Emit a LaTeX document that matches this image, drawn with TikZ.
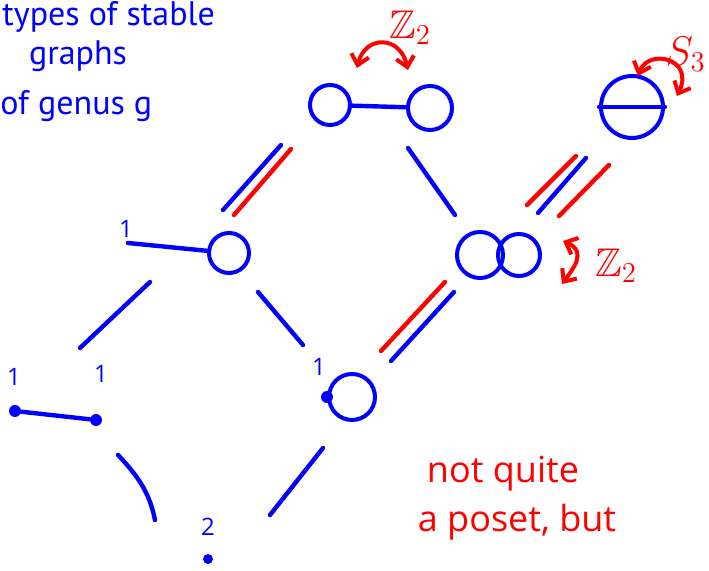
\documentclass[tikz,border=0pt]{standalone}
\usepackage{amssymb}
\usepackage{fontspec}
\setmainfont{Open Sans}
\newfontfamily\manuscrit{PT Sans}
\usetikzlibrary{arrows.meta, positioning}

\begin{document}
\begin{tikzpicture}[
		x=0.5pt, y=-0.5pt,
		% Styles des graphes
		boucle/.style={draw=blue, circle, line width=2pt, inner sep=0pt},
		sommet/.style={fill=blue, circle, inner sep=0pt, minimum size=6pt},
		genre/.style={text=blue, font=\fontsize{12}{12}\selectfont, inner sep=1pt},
		lienBleu/.style={draw=blue, line width=2.2pt, line cap=round},
		lienRouge/.style={draw=red, line width=2.2pt, line cap=round},
		arcSym/.style={{Straight Barb[length=5pt, width=9pt]}-{Straight Barb[length=5pt, width=9pt]}, draw=red, line width=2pt, line cap=round},
		titre/.style={text=blue, font=\manuscrit\fontsize{17}{20}\selectfont},
		remarque/.style={text=red, font=\fontsize{18}{20}\selectfont},
		groupe/.style={text=red, font=\fontsize{20}{22}\selectfont, inner sep=1pt},
		]
	
	\useasboundingbox (0,0) rectangle (709,571);
	\clip (0,0) rectangle (709,571);
	
	% Titre
	\node[titre, anchor=west, inner sep=0pt] (titreA) at (2,17) {types of stable};
	\node[titre] (titreB) at (78,56) {graphs};
	\node[titre, anchor=west, inner sep=0pt] (titreC) at (0,106) {of genus g};
	
	
	% Haut : deux boucles reliees
	\node[boucle, minimum size=20pt] (HautG) at (330,105) {};
	\node[boucle, minimum size=22pt] (HautD) at (430,108) {};
	\draw[lienBleu] (HautG) -- (HautD);
	\coordinate (symHautA) at (357,68);
	\coordinate (symHautB) at (408,70);
	\draw[arcSym] (symHautA) .. controls (365,35) and (400,35) .. (symHautB);
	\node[groupe] (groupeHaut) at (410,28) {$\mathbb{Z}_2$};
	
	
	% Haut droite : theta
	\node[boucle, minimum size=31pt] (Theta) at (632,107) {};
	\draw[lienBleu] (Theta.west) -- (Theta.east);
	\coordinate (symThetaA) at (638,76);
	\coordinate (symThetaB) at (677,96);
	\draw[arcSym] (symThetaA) .. controls (648,48) and (695,58) .. (symThetaB);
	\node[groupe, anchor=east] (groupeTheta) at (708,54) {$S_3$};
	
	
	% Milieu gauche
	\node[boucle, minimum size=20pt] (MilG) at (229,253) {};
	\coordinate (Patte) at (128,243);
	\node[genre] (genrePatte) at (126,229) {1};
	\draw[lienBleu] (Patte) -- (MilG);
	
	
	% Milieu droite : huit
	\node[boucle, minimum size=23pt] (MilD) at (480,255) {};
	\node[boucle, minimum size=21pt] (MilDbis) at (519,255) {};
	\coordinate (symMilA) at (563,241);
	\coordinate (symMilB) at (562,284);
	\draw[arcSym] (symMilA) .. controls (588,252) and (572,270) .. (symMilB);
	\node[groupe] (groupeMil) at (616,266) {$\mathbb{Z}_2$};
	
	
	% Bas gauche : haltere
	\node[sommet] (BasG) at (15,411) {};
	\node[sommet] (BasGbis) at (96,420) {};
	\draw[lienBleu] (BasG) -- (BasGbis);
	\node[genre] (genreBasG) at (14,377) {1};
	\node[genre] (genreBasGbis) at (101,374) {1};
	
	
	% Bas milieu
	\node[boucle, minimum size=23pt] (BasM) at (352,397) {};
	\node[sommet] (BasMv) at (BasM.west) {};
	\node[genre] (genreBasM) at (319,367) {1};
	
	
	% Tout en bas
	\node[genre] (genreBas) at (208,527) {2};
	\node[sommet, minimum size=5pt] (Bas) at (208,559) {};
	
	
	% Remarque
	\node[remarque] (remA) at (503,474) {not quite};
	\node[remarque] (remB) at (517,522) {a poset, but};
	
	
	% Aretes de degenerescence
	\coordinate (a1) at (281,145);
	\coordinate (a2) at (223,210);
	\coordinate (a3) at (291,149);
	\coordinate (a4) at (234,215);
	\draw[lienBleu] (a1) -- (a2);
	\draw[lienRouge] (a3) -- (a4);
	
	\coordinate (b1) at (408,148);
	\coordinate (b2) at (455,215);
	\draw[lienBleu] (b1) -- (b2);
	
	\coordinate (c1) at (576,156);
	\coordinate (c2) at (527,205);
	\coordinate (c3) at (586,158);
	\coordinate (c4) at (538,213);
	\coordinate (c5) at (609,165);
	\coordinate (c6) at (559,216);
	\draw[lienRouge] (c1) -- (c2);
	\draw[lienBleu] (c3) -- (c4);
	\draw[lienRouge] (c5) -- (c6);
	
	\coordinate (d1) at (445,282);
	\coordinate (d2) at (381,351);
	\coordinate (d3) at (454,292);
	\coordinate (d4) at (391,361);
	\draw[lienRouge] (d1) -- (d2);
	\draw[lienBleu] (d3) -- (d4);
	
	\coordinate (e1) at (150,282);
	\coordinate (e2) at (80,348);
	\draw[lienBleu] (e1) -- (e2);
	
	\coordinate (f1) at (258,292);
	\coordinate (f2) at (303,345);
	\draw[lienBleu] (f1) -- (f2);
	
	\coordinate (g1) at (118,455);
	\coordinate (g2) at (155,520);
	\draw[lienBleu] (g1) .. controls (140,478) and (150,495) .. (g2);
	
	\coordinate (h1) at (323,448);
	\coordinate (h2) at (270,515);
	\draw[lienBleu] (h1) -- (h2);
\end{tikzpicture}
\end{document}
